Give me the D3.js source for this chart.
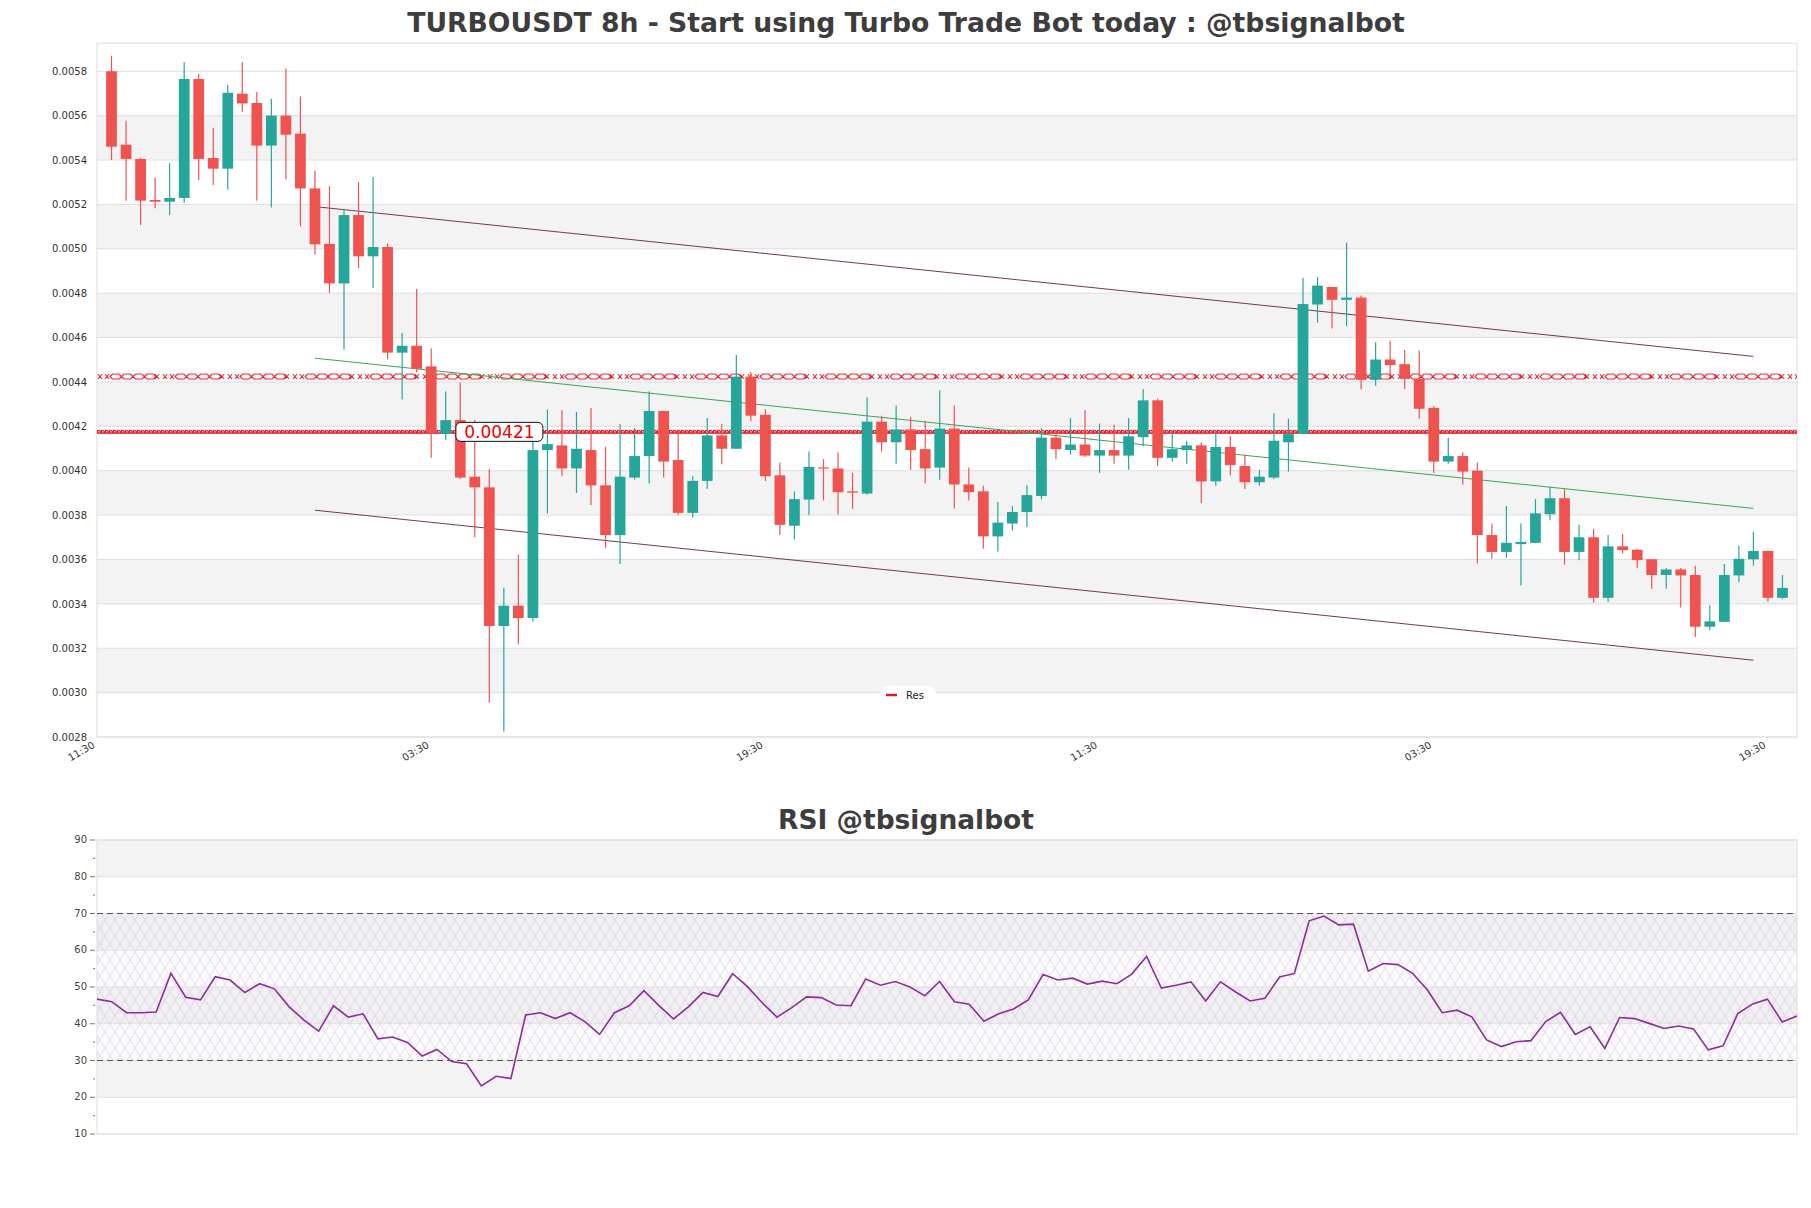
<!DOCTYPE html>
<html><head><meta charset="utf-8">
<script src="https://cdn.jsdelivr.net/npm/d3@7"></script>
<style>body{margin:0;background:#fff}</style>
</head><body><svg id="c" width="1811" height="1208"></svg>
<script>
// ---------- DATA ----------
const opens  = [0.0058,0.005469,0.005405,0.00522,0.005212,0.005229,0.005765,0.005409,0.005361,0.005699,0.005657,0.005465,0.0056,0.005519,0.005272,0.005022,0.004844,0.005152,0.004966,0.005008,0.004532,0.004563,0.00447,0.004165,0.004228,0.003973,0.003925,0.0033,0.003392,0.003336,0.004093,0.004114,0.00401,0.004093,0.003934,0.00371,0.003969,0.004066,0.004269,0.004048,0.00381,0.003954,0.004159,0.004099,0.004424,0.004252,0.003979,0.003752,0.00387,0.004015,0.00401,0.003907,0.003897,0.004221,0.004128,0.004186,0.004097,0.004014,0.00419,0.003938,0.003907,0.003704,0.003762,0.003814,0.003886,0.004149,0.004093,0.004118,0.004068,0.004093,0.004068,0.004151,0.004317,0.004058,0.004093,0.004114,0.003952,0.004107,0.004021,0.003948,0.003969,0.004128,0.004165,0.004749,0.004828,0.00477,0.00478,0.00441,0.004501,0.00448,0.004414,0.004283,0.004041,0.004066,0.0040,0.00371,0.003634,0.003669,0.003675,0.003804,0.003876,0.003634,0.0037,0.003427,0.003659,0.003644,0.003601,0.00353,0.003555,0.00353,0.003297,0.003319,0.003528,0.003601,0.003638,0.003427];
const highs  = [0.00587,0.005577,0.00541,0.00532,0.005386,0.005841,0.005788,0.005546,0.005738,0.005841,0.005707,0.005676,0.005812,0.005686,0.005353,0.005283,0.005175,0.005301,0.005324,0.005024,0.004621,0.004819,0.004552,0.004358,0.004397,0.004228,0.004006,0.003472,0.003621,0.004149,0.004277,0.004273,0.004265,0.004283,0.004108,0.004211,0.004194,0.004358,0.004269,0.00418,0.003975,0.004238,0.004211,0.004521,0.004445,0.004277,0.004037,0.003907,0.004087,0.004052,0.004083,0.00399,0.004331,0.004248,0.004294,0.004242,0.004223,0.004362,0.004294,0.004014,0.003932,0.003859,0.003841,0.003934,0.004192,0.004186,0.004238,0.004273,0.004213,0.004207,0.004238,0.004368,0.004325,0.004172,0.004135,0.004128,0.00418,0.004155,0.004072,0.004004,0.004259,0.004234,0.004869,0.004873,0.004828,0.005028,0.00479,0.004579,0.004586,0.004544,0.004542,0.00429,0.004149,0.004083,0.004037,0.003762,0.003841,0.003762,0.003872,0.003928,0.003917,0.003756,0.003737,0.00371,0.003714,0.003648,0.003601,0.003561,0.003561,0.003572,0.003394,0.00358,0.003663,0.003725,0.003642,0.00353];
const lows   = [0.0054,0.005217,0.005107,0.005183,0.005152,0.005208,0.00531,0.005287,0.005266,0.005618,0.005217,0.005186,0.005312,0.005101,0.004974,0.004801,0.004546,0.004914,0.004823,0.004501,0.004321,0.004445,0.004058,0.004139,0.003963,0.0037,0.002955,0.002825,0.003218,0.003321,0.003808,0.003975,0.0039,0.003845,0.003652,0.00358,0.003959,0.003942,0.003969,0.0038,0.003789,0.003917,0.004029,0.004099,0.004223,0.003954,0.00371,0.00369,0.0038,0.003866,0.003803,0.003828,0.003892,0.004087,0.004031,0.004004,0.003942,0.003959,0.00383,0.003866,0.003648,0.003636,0.003731,0.003746,0.003872,0.004052,0.004072,0.004062,0.00399,0.004031,0.004004,0.00411,0.004021,0.004041,0.004031,0.003855,0.003932,0.003979,0.003917,0.003932,0.003963,0.003996,0.004165,0.004668,0.004641,0.004652,0.004366,0.004383,0.00443,0.004368,0.004234,0.00399,0.004031,0.003938,0.003582,0.003603,0.003607,0.003483,0.003673,0.003777,0.003576,0.003597,0.003406,0.00341,0.003628,0.003561,0.003468,0.003468,0.003383,0.003251,0.00328,0.003319,0.003497,0.003572,0.00341,0.003421];
const closes = [0.00546,0.005405,0.005217,0.005212,0.005229,0.005765,0.005405,0.005361,0.005703,0.005655,0.005465,0.0056,0.005514,0.005272,0.00502,0.004844,0.005152,0.004966,0.005008,0.004532,0.004563,0.004459,0.00417,0.004228,0.003969,0.003925,0.0033,0.003392,0.003336,0.004093,0.00412,0.00401,0.004099,0.003934,0.00371,0.003973,0.004066,0.004269,0.004041,0.00381,0.003954,0.004159,0.004099,0.004424,0.004248,0.003975,0.003756,0.003872,0.004017,0.00401,0.003903,0.003901,0.004221,0.004128,0.004186,0.004093,0.00401,0.00419,0.003938,0.003903,0.003704,0.003766,0.003814,0.00389,0.004149,0.004097,0.004118,0.004068,0.004093,0.004068,0.004155,0.004317,0.004058,0.004097,0.004114,0.003952,0.004107,0.004025,0.003948,0.003973,0.004135,0.004165,0.004751,0.004834,0.00477,0.00478,0.00441,0.004501,0.004476,0.004414,0.004279,0.004041,0.004066,0.003996,0.00371,0.003634,0.003675,0.003679,0.003808,0.003876,0.003634,0.0037,0.003427,0.003659,0.003642,0.003597,0.00353,0.003555,0.003528,0.003297,0.003321,0.00353,0.003603,0.003638,0.003427,0.003472];
const rsiValues = [46.7,46.0,43.0,43.0,43.2,53.7,47.2,46.5,52.8,51.9,48.5,50.9,49.5,44.6,41.0,38.0,44.9,41.8,42.7,35.9,36.4,34.9,31.2,33.0,29.7,29.1,23.1,25.7,25.1,42.4,43.0,41.4,43.0,40.6,37.1,43.0,44.9,49.0,45.0,41.3,44.6,48.5,47.4,53.6,50.1,45.7,41.8,44.4,47.3,47.1,45.1,44.9,52.2,50.5,51.5,50.0,47.6,51.5,46.0,45.3,40.7,42.7,44.0,46.5,53.4,51.9,52.4,50.8,51.6,50.9,53.5,58.3,49.7,50.5,51.4,46.2,51.4,48.7,46.2,46.9,52.7,53.7,68.0,69.3,66.9,67.1,54.3,56.4,56.1,53.7,49.2,43.0,43.7,41.9,35.6,33.8,35.1,35.4,40.6,43.1,37.1,39.2,33.3,41.7,41.4,40.1,38.7,39.4,38.6,32.9,34.0,42.8,45.4,46.7,40.5,42.1];
const xTickIndex  = [-1,22,45,68,91,114];
const xTickLabels = ["11:30","03:30","19:30","11:30","03:30","19:30"];
const priceTicks  = [0.0028,0.0030,0.0032,0.0034,0.0036,0.0038,0.0040,0.0042,0.0044,0.0046,0.0048,0.0050,0.0052,0.0054,0.0056,0.0058];
const rsiTicks    = [10,20,30,40,50,60,70,80,90];
const rsiMinorTicks = [15,25,35,45,55,65,75,85];
const rsiLevels   = [70,30];
const resLevels   = [0.004424,0.004175];
const resLabel    = "0.00421";
const channelIndex = [14,113];
const channelUpper = [0.00519,0.004515];
const channelMid   = [0.004507,0.00383];
const channelLower = [0.003822,0.003146];
const titleMain = "TURBOUSDT 8h - Start using Turbo Trade Bot today : @tbsignalbot";
const titleRsi  = "RSI @tbsignalbot";
const legendLabel = "Res";

// ---------- LAYOUT ----------
const L=97, R=1797;
const svg=d3.select("#c");
svg.append("rect").attr("width",1811).attr("height",1208).attr("fill","#fff");
const FONT="DejaVu Sans, sans-serif";
const x=d3.scaleLinear().domain([-1,116]).range([L,R]);
const y=d3.scaleLinear().domain([0.0028,0.005926]).range([737,43.3]);
const xr=d3.scaleLinear().domain([0,rsiValues.length-1]).range([L,R]);
const yr=d3.scaleLinear().domain([10,90]).range([1134,840]);

const defs=svg.append("defs");
const hp=defs.append("pattern").attr("id","hatch").attr("patternUnits","userSpaceOnUse").attr("width",10).attr("height",16);
hp.append("path").attr("d","M0,0 L10,16 M10,0 L0,16").attr("stroke","#c7b2d3").attr("stroke-width",0.6).attr("opacity",0.7);

// chain pattern for upper resistance line
const RED="#e3202c";
const yU=y(resLevels[0]);
const px=defs.append("pattern").attr("id","resx").attr("patternUnits","userSpaceOnUse")
  .attr("x",L).attr("y",yU-3.5).attr("width",65).attr("height",7);
let dX="";
[3,10,60].forEach(c=>{dX+=`M${c-2.2},1 L${c+2.2},6 M${c-2.2},6 L${c+2.2},1 `;});
for(let k=0;k<4;k++){const a=13+k*11.5;dX+=`M${a},3.5 L${a+2.5},1 L${a+9},1 L${a+11.5},3.5 L${a+9},6 L${a+2.5},6 Z `;}
px.append("path").attr("d",dX).attr("fill","none").attr("stroke",RED).attr("stroke-width",1.1);

// dense pattern for lower resistance line
const yLw=y(resLevels[1]);
const pd=defs.append("pattern").attr("id","resd").attr("patternUnits","userSpaceOnUse")
  .attr("x",L).attr("y",yLw-2).attr("width",4).attr("height",4);
pd.append("rect").attr("width",4).attr("height",4).attr("fill",RED);
pd.append("rect").attr("x",1).attr("y",1.3).attr("width",1.6).attr("height",1.1).attr("fill","#fff");
pd.append("rect").attr("x",3.2).attr("y",0).attr("width",0.8).attr("height",1).attr("fill","#fff");

function fitText(t,w){const n=t.node();const l=n.getComputedTextLength();const fs=parseFloat(t.attr("font-size"));t.attr("font-size",fs*w/l);}

// ---------- MAIN PANEL ----------
const g=svg.append("g");
for(let k=0;k<priceTicks.length-1;k++){
  if(k%2===1) g.append("rect").attr("x",L).attr("width",R-L)
     .attr("y",y(priceTicks[k+1])).attr("height",y(priceTicks[k])-y(priceTicks[k+1])).attr("fill","#f3f3f3");
}
g.selectAll(".pg").data(priceTicks).join("line").attr("x1",L).attr("x2",R)
  .attr("y1",d=>y(d)).attr("y2",d=>y(d)).attr("stroke","#dedede").attr("stroke-width",1);
g.append("rect").attr("x",L).attr("y",y.range()[1]).attr("width",R-L).attr("height",y.range()[0]-y.range()[1])
  .attr("fill","none").attr("stroke","#dedede");

const yAx=g.append("g").attr("transform",`translate(${L},0)`)
  .call(d3.axisLeft(y).tickValues(priceTicks).tickFormat(d3.format(".4f")).tickSize(0).tickPadding(10));
yAx.select(".domain").remove();
yAx.selectAll("text").attr("font-family",FONT).attr("font-size",10).attr("fill","#333");

const xAx=g.append("g").attr("transform",`translate(0,${y.range()[0]})`)
  .call(d3.axisBottom(x).tickValues(xTickIndex).tickFormat((d,i)=>xTickLabels[i]).tickSize(0));
xAx.select(".domain").remove();
xAx.selectAll("text").attr("font-family",FONT).attr("font-size",10).attr("fill","#333")
  .attr("x",0).attr("y",0).attr("dy",0).attr("text-anchor","end").attr("transform","translate(-2,10) rotate(-30)");

// resistance lines
g.append("rect").attr("x",L).attr("width",R-L).attr("y",yU-3.5).attr("height",7).attr("fill","url(#resx)");
g.append("rect").attr("x",L).attr("width",R-L).attr("y",yLw-2).attr("height",4).attr("fill","url(#resd)");

// channel
const chan=[[channelUpper,"#74394f"],[channelMid,"#3aa655"],[channelLower,"#74394f"]];
chan.forEach(([v,c])=>{
  g.append("line").attr("x1",x(channelIndex[0])).attr("x2",x(channelIndex[1]))
   .attr("y1",y(v[0])).attr("y2",y(v[1])).attr("stroke",c).attr("stroke-width",1);
});

// candles
const bw=(x(1)-x(0))*0.74;
const cd=opens.map((o,i)=>({i,o,h:highs[i],l:lows[i],c:closes[i]}));
const col=d=>d.c>=d.o?"#26a69a":"#ef5350";
g.selectAll(".wick").data(cd).join("line").attr("x1",d=>x(d.i)).attr("x2",d=>x(d.i))
  .attr("y1",d=>y(d.h)).attr("y2",d=>y(d.l)).attr("stroke",col).attr("stroke-width",1.2);
g.selectAll(".body").data(cd).join("rect").attr("x",d=>x(d.i)-bw/2).attr("width",bw)
  .attr("y",d=>y(Math.max(d.o,d.c))).attr("height",d=>Math.max(1.2,Math.abs(y(d.o)-y(d.c)))).attr("fill",col);

// res label
const lab=g.append("g").attr("transform",`translate(${x(23.7)},${yLw})`);
lab.append("rect").attr("x",0).attr("y",-9.5).attr("width",87).attr("height",19).attr("rx",5)
  .attr("fill","#fff").attr("stroke","#111").attr("stroke-width",1);
lab.append("text").attr("x",43.5).attr("y",6).attr("text-anchor","middle").attr("font-family",FONT)
  .attr("font-size",17).attr("fill","#ee0000").text(resLabel);

// legend
const lg=g.append("g").attr("transform",`translate(880,686)`);
lg.append("rect").attr("width",56).attr("height",17).attr("rx",7).attr("fill","#fff");
lg.append("line").attr("x1",6).attr("x2",17).attr("y1",9).attr("y2",9).attr("stroke","#d0202a").attr("stroke-width",2.5);
lg.append("text").attr("x",26).attr("y",12.5).attr("font-family",FONT).attr("font-size",10).attr("fill","#222").text(legendLabel);

// title
const t1=svg.append("text").attr("x",906).attr("y",32).attr("text-anchor","middle").attr("font-family",FONT)
  .attr("font-weight","bold").attr("font-size",26).attr("fill","#3d3d3d").text(titleMain);
fitText(t1,998);

// ---------- RSI PANEL ----------
const r=svg.append("g");
for(let k=0;k<rsiTicks.length-1;k++){
  if(k%2===1) r.append("rect").attr("x",L).attr("width",R-L).attr("y",yr(rsiTicks[k+1]))
     .attr("height",yr(rsiTicks[k])-yr(rsiTicks[k+1])).attr("fill","#f3f3f3");
}
r.append("rect").attr("x",L).attr("width",R-L).attr("y",yr(70)).attr("height",yr(30)-yr(70)).attr("fill","#a070c0").attr("opacity",0.03);
r.append("rect").attr("x",L).attr("width",R-L).attr("y",yr(70)).attr("height",yr(30)-yr(70)).attr("fill","url(#hatch)");
r.selectAll(".rg").data(rsiTicks).join("line").attr("x1",L).attr("x2",R)
  .attr("y1",d=>yr(d)).attr("y2",d=>yr(d)).attr("stroke","#dedede");
r.append("rect").attr("x",L).attr("y",yr(90)).attr("width",R-L).attr("height",yr(10)-yr(90)).attr("fill","none").attr("stroke","#dedede");
r.selectAll(".lv").data(rsiLevels).join("line").attr("x1",L).attr("x2",R)
  .attr("y1",d=>yr(d)).attr("y2",d=>yr(d)).attr("stroke","#555").attr("stroke-width",1.2).attr("stroke-dasharray","6,4");
r.selectAll(".mt").data(rsiMinorTicks).join("line").attr("x1",L-4).attr("x2",L-2)
  .attr("y1",d=>yr(d)).attr("y2",d=>yr(d)).attr("stroke","#777");
r.selectAll(".Mt").data(rsiTicks).join("line").attr("x1",L-7).attr("x2",L-2)
  .attr("y1",d=>yr(d)).attr("y2",d=>yr(d)).attr("stroke","#777");
r.selectAll(".rl").data(rsiTicks).join("text").attr("x",L-10).attr("y",d=>yr(d)).attr("dy","0.32em")
  .attr("text-anchor","end").attr("font-family",FONT).attr("font-size",10).attr("fill","#444").text(d=>d);
r.append("path").datum(rsiValues).attr("fill","none").attr("stroke","#8e2c9e").attr("stroke-width",1.6)
  .attr("d",d3.line().x((d,i)=>xr(i)).y(d=>yr(d)));
const t2=svg.append("text").attr("x",906).attr("y",829).attr("text-anchor","middle").attr("font-family",FONT)
  .attr("font-weight","bold").attr("font-size",26).attr("fill","#3d3d3d").text(titleRsi);
fitText(t2,256);
</script></body></html>
